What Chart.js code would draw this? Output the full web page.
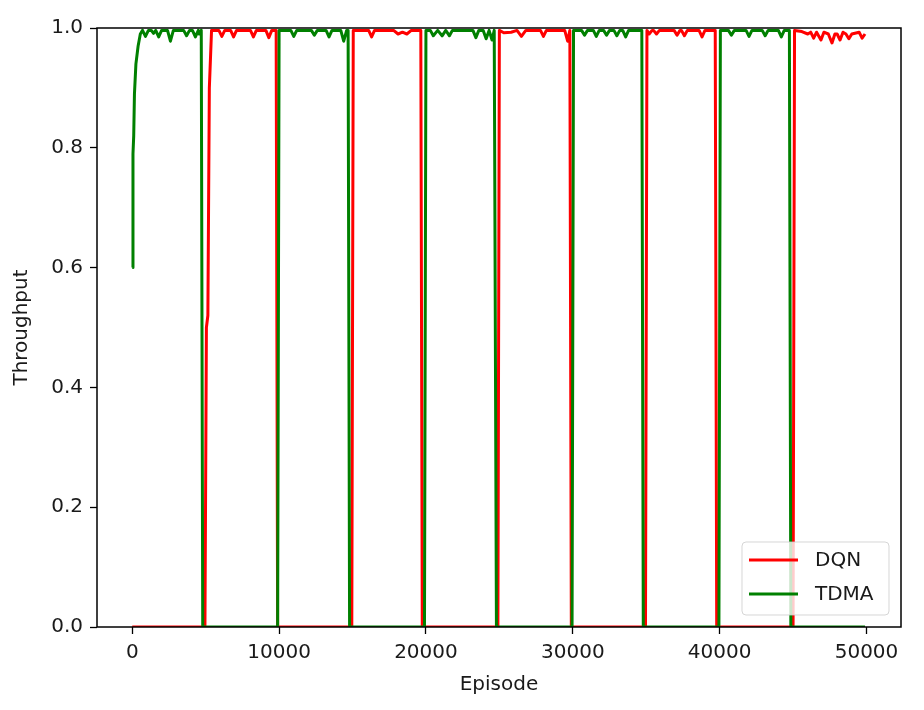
<!DOCTYPE html>
<html>
<head>
<meta charset="utf-8">
<script src="https://cdn.jsdelivr.net/npm/chart.js@4.4.1/dist/chart.umd.min.js"></script>
<style>
html,body{margin:0;padding:0;background:#fff;}
canvas{display:block;}
</style>
</head>
<body>
<canvas id="c" width="924" height="710"></canvas>
<script>
// ---- data ----
const seriesNames = ["DQN", "TDMA"];
const xTickValues = [0, 10000, 20000, 30000, 40000, 50000];
const yTickValues = [0, 0.2, 0.4, 0.6, 0.8, 1.0];

const dqnEpisode = [0,4950,5050,5150,5250,5400,
  5900,6100,6300,6700,6900,7100,8050,8250,8450,9100,9300,9500,9800,9900,
  14950,15050,16100,16300,16500,17800,18100,18400,18700,19000,19650,19750,
  24900,25000,25300,25800,26200,26500,26800,27800,28000,28200,29450,29650,29800,29900,
  34950,35050,35200,35400,35500,35700,35900,36900,37100,37300,37400,37600,37800,38600,38800,39000,39700,39800,
  45000,45100,45600,46000,46200,46400,46600,46900,47100,47400,47650,47850,48000,48200,48400,48600,48800,49000,49500,49700,49900];
const dqnValue = [0,0,0.5,0.52,0.9,0.996,
  0.996,0.986,0.996,0.996,0.985,0.996,0.996,0.985,0.996,0.996,0.984,0.996,0.996,0,
  0,0.996,0.996,0.985,0.996,0.996,0.99,0.993,0.99,0.996,0.996,0,
  0,0.996,0.992,0.993,0.996,0.986,0.996,0.996,0.986,0.996,0.996,0.978,0.996,0,
  0,0.996,0.99,0.996,0.996,0.99,0.996,0.996,0.988,0.996,0.996,0.987,0.996,0.996,0.985,0.996,0.996,0,
  0,0.996,0.994,0.99,0.993,0.983,0.993,0.98,0.993,0.99,0.975,0.99,0.99,0.98,0.993,0.99,0.982,0.99,0.993,0.983,0.99];

const tdmaEpisode = [0,50,100,150,250,400,550,700,
  900,1100,1300,1450,1600,1800,2000,2400,2600,2800,3500,3700,3900,4100,4300,4500,4550,4700,4800,
  9900,10000,10800,11000,11200,12200,12400,12600,13200,13400,13600,14200,14400,14600,14700,14800,
  19900,20000,20300,20500,20800,21100,21350,21600,21800,23200,23400,23600,23900,24100,24300,24500,24650,24700,24800,
  29950,30050,30600,30800,31000,31400,31600,31800,32100,32300,32500,32800,33000,33200,33400,33600,33800,34700,34800,
  39950,40050,40600,40800,41000,41800,42000,42200,42900,43100,43300,44000,44200,44400,44750,44850,
  49900];
const tdmaValue = [0.6,0.79,0.82,0.89,0.94,0.97,0.99,0.996,
  0.986,0.996,0.996,0.991,0.996,0.985,0.996,0.996,0.978,0.996,0.996,0.987,0.996,0.996,0.985,0.996,0.99,0.996,0,
  0,0.996,0.996,0.986,0.996,0.996,0.988,0.996,0.996,0.985,0.996,0.996,0.978,0.996,0.996,0,
  0,0.996,0.996,0.987,0.996,0.987,0.996,0.987,0.996,0.996,0.984,0.996,0.996,0.982,0.996,0.98,0.996,0.996,0,
  0,0.996,0.996,0.988,0.996,0.996,0.986,0.996,0.996,0.988,0.996,0.996,0.987,0.996,0.996,0.985,0.996,0.996,0,
  0,0.996,0.996,0.988,0.996,0.996,0.986,0.996,0.996,0.987,0.996,0.996,0.985,0.996,0.996,0,
  0];

const seriesColors = ["#ff0000", "#008000"];

const toPoints = (xs, ys) => xs.map((x, i) => ({x: x, y: ys[i]}));

const FONT = "'DejaVu Sans', sans-serif";
const TXT = "#1a1a1a";

const framePlugin = {
  id: 'frameAndLegend',
  afterDatasetsDraw(chart) {
    const {ctx, chartArea: a} = chart;
    ctx.save();
    ctx.strokeStyle = '#000';
    ctx.lineWidth = 1.5;
    ctx.strokeRect(a.left, a.top, a.right - a.left, a.bottom - a.top);
    // legend (lower right, matplotlib style)
    const w = 147, h = 73;
    const x0 = a.right - 12 - w, y0 = a.bottom - 12 - h;
    const r = 4;
    ctx.beginPath();
    ctx.moveTo(x0 + r, y0);
    ctx.lineTo(x0 + w - r, y0); ctx.quadraticCurveTo(x0 + w, y0, x0 + w, y0 + r);
    ctx.lineTo(x0 + w, y0 + h - r); ctx.quadraticCurveTo(x0 + w, y0 + h, x0 + w - r, y0 + h);
    ctx.lineTo(x0 + r, y0 + h); ctx.quadraticCurveTo(x0, y0 + h, x0, y0 + h - r);
    ctx.lineTo(x0, y0 + r); ctx.quadraticCurveTo(x0, y0, x0 + r, y0);
    ctx.closePath();
    ctx.fillStyle = 'rgba(255,255,255,0.8)';
    ctx.fill();
    ctx.strokeStyle = 'rgba(204,204,204,0.8)';
    ctx.lineWidth = 1;
    ctx.stroke();
    chart.data.datasets.slice().sort((p, q) => p.legendIndex - q.legendIndex).forEach((ds, i) => {
      const ly = y0 + 18 + i * 34;
      ctx.strokeStyle = ds.borderColor;
      ctx.lineWidth = 3;
      ctx.beginPath();
      ctx.moveTo(x0 + 7, ly);
      ctx.lineTo(x0 + 56, ly);
      ctx.stroke();
      ctx.fillStyle = TXT;
      ctx.font = "20px " + FONT;
      ctx.textBaseline = 'middle';
      ctx.textAlign = 'left';
      ctx.fillText(ds.label, x0 + 73, ly + 1);
    });
    ctx.restore();
  }
};

new Chart(document.getElementById('c'), {
  type: 'line',
  data: {
    datasets: [
      {label: seriesNames[0], legendIndex: 0, data: toPoints(dqnEpisode, dqnValue), borderColor: seriesColors[0], order: 1},
      {label: seriesNames[1], legendIndex: 1, data: toPoints(tdmaEpisode, tdmaValue), borderColor: seriesColors[1], order: 0}
    ]
  },
  options: {
    responsive: false,
    devicePixelRatio: 1,
    animation: false,
    layout: {padding: {left: 0, right: 23, top: 28, bottom: 0}},
    elements: {
      point: {radius: 0, hoverRadius: 0},
      line: {borderWidth: 3, tension: 0, fill: false, borderJoinStyle: 'round'}
    },
    datasets: {line: {clip: 0}},
    plugins: {legend: {display: false}, tooltip: {enabled: false}},
    scales: {
      x: {
        type: 'linear',
        min: -2400, max: 52350,
        afterBuildTicks: s => { s.ticks = xTickValues.map(v => ({value: v})); },
        afterFit: s => { s.height = 83; },
        grid: {display: true, drawOnChartArea: false, drawTicks: true, tickLength: 7, tickColor: '#000', tickWidth: 1.3},
        border: {display: false},
        ticks: {font: {family: FONT, size: 20}, color: TXT, padding: 7, maxRotation: 0, autoSkip: false,
                callback: v => String(v)},
        title: {display: true, text: 'Episode', font: {family: FONT, size: 20}, color: TXT, padding: {top: 4, bottom: 13}}
      },
      y: {
        type: 'linear',
        min: 0, max: 1,
        afterBuildTicks: s => { s.ticks = yTickValues.map(v => ({value: v})); },
        afterFit: s => { s.width = 97; },
        grid: {display: true, drawOnChartArea: false, drawTicks: true, tickLength: 7, tickColor: '#000', tickWidth: 1.3},
        border: {display: false},
        ticks: {font: {family: FONT, size: 20}, color: TXT, padding: 7, autoSkip: false,
                callback: v => Number(v).toFixed(1)},
        title: {display: true, text: 'Throughput', font: {family: FONT, size: 20}, color: TXT, padding: {top: 10, bottom: 4}}
      }
    }
  },
  plugins: [framePlugin]
});
</script>
</body>
</html>
